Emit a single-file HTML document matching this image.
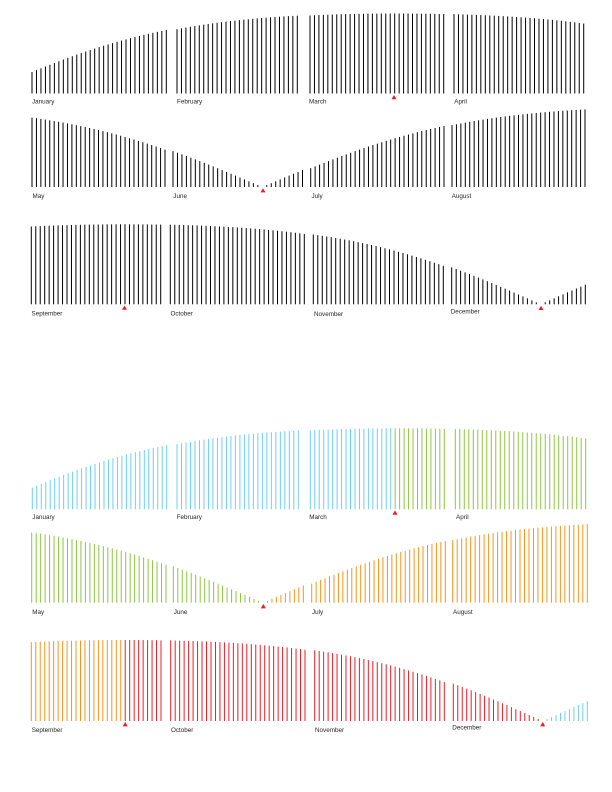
<!DOCTYPE html>
<html><head><meta charset="utf-8"><style>
html,body{margin:0;padding:0;background:#fff;}
svg{display:block;}
text{font-family:"Liberation Sans",sans-serif;font-size:6.3px;fill:#231f20;}
</style></head><body>
<svg id="s" width="612" height="792" viewBox="0 0 612 792" xmlns="http://www.w3.org/2000/svg">
<rect x="0" y="0" width="612" height="792" fill="#fff"/>
<g id="lines"></g>
<text x="32" y="103.3">January</text>
<text x="177" y="103.3">February</text>
<text x="309" y="103.3">March</text>
<text x="454.3" y="103.3">April</text>
<text x="32.5" y="197.8">May</text>
<text x="173.3" y="197.8">June</text>
<text x="311.5" y="197.8">July</text>
<text x="451.7" y="197.8">August</text>
<text x="31.5" y="315.6">September</text>
<text x="170.5" y="315.6">October</text>
<text x="314" y="315.8">November</text>
<text x="450.7" y="313.3">December</text>

<text x="32.3" y="518.8">January</text>
<text x="176.7" y="518.8">February</text>
<text x="309.3" y="518.8">March</text>
<text x="456" y="518.8">April</text>
<text x="32.3" y="613.8">May</text>
<text x="173.7" y="613.8">June</text>
<text x="312" y="613.8">July</text>
<text x="453" y="613.8">August</text>
<text x="31.7" y="731.8">September</text>
<text x="171" y="731.8">October</text>
<text x="315" y="732">November</text>
<text x="452.3" y="729.3">December</text>

<g fill="#ED1C24">
<polygon points="391.5,99.2 396.5,99.2 394,95"/>
<polygon points="260.5,192.4 265.5,192.4 263,188.2"/>
<polygon points="122,309.8 127,309.8 124.5,305.6"/>
<polygon points="538.5,310 543.5,310 541,305.8"/>
<polygon points="392.5,514.8 397.5,514.8 395,510.4"/>
<polygon points="260.8,608.4 265.8,608.4 263.3,604"/>
<polygon points="122.7,726.4 127.7,726.4 125.2,722"/>
<polygon points="540.2,726.4 545.2,726.4 542.7,722"/>
</g>
</svg>
<script>
(function(){
  var NS="http://www.w3.org/2000/svg";
  var g=document.getElementById("lines");
  var days=[31,28,31,30,31,30,31,31,30,31,30,31];
  var cum=[0,31,59,90,120,151,181,212,243,273,304,334];
  var A=[[78,0],[171,Math.PI/2],[264,Math.PI],[354,1.5*Math.PI],[443,2*Math.PI]];
  function theta(d){
    var dd=d<78?d+365:d;
    for(var i=0;i<4;i++){
      if(dd>=A[i][0]&&dd<=A[i+1][0]){
        return A[i][1]+(dd-A[i][0])/(A[i+1][0]-A[i][0])*(A[i+1][1]-A[i][1]);
      }
    }
    return 0;
  }
  function f(d){
    var th=theta(d);
    var eps=23.44*Math.PI/180;
    var del=eps*Math.sin(th);
    var tn=Math.tan(del);
    var t2=1.5625;
    return Math.abs(Math.cos(th))*(1+tn*tn)/Math.sqrt(1-t2*tn*tn);
  }
  function col(d){
    if(d>=354||d<78) return "#6DCFF6";
    if(d<171) return "#8DC63F";
    if(d<264) return "#F7941D";
    return "#ED1C24";
  }
  var C1=[[32,166.3],[177,297.3],[310,443.7],[454,583.7],[32,165],[173,302.5],[310.7,444],[452,585],[31.3,160.7],[170.3,304.3],[313.3,443.3],[451.7,585.3]];
  var C2=[[32.3,166.7],[177,298.3],[310.3,444.3],[455.3,585.7],[31.7,166],[173.3,303.3],[311.7,445.3],[452.7,587.3],[31.3,161],[170.7,305],[314.7,444.3],[453.3,587.3]];
  var B1=[93.5,187,304.3], B2=[509.3,602.7,721];
  function draw(C,B,H,colored){
    for(var m=0;m<12;m++){
      var n=days[m], s=C[m][0], e=C[m][1], base=B[Math.floor(m/4)];
      var step=(e-s)/(n-1);
      for(var i=0;i<n;i++){
        var d=cum[m]+i;
        var h=H*f(d);
        if(h<0.4) continue;
        var x=s+i*step;
        var l=document.createElementNS(NS,"line");
        l.setAttribute("x1",x.toFixed(2));
        l.setAttribute("x2",x.toFixed(2));
        l.setAttribute("y1",base.toFixed(2));
        l.setAttribute("y2",(base-h).toFixed(2));
        l.setAttribute("stroke",colored?col(d):"#000");
        l.setAttribute("stroke-width","1");
        g.appendChild(l);
      }
    }
  }
  draw(C1,B1,80,false);
  draw(C2,B2,81,true);
})();
</script>
</body></html>
